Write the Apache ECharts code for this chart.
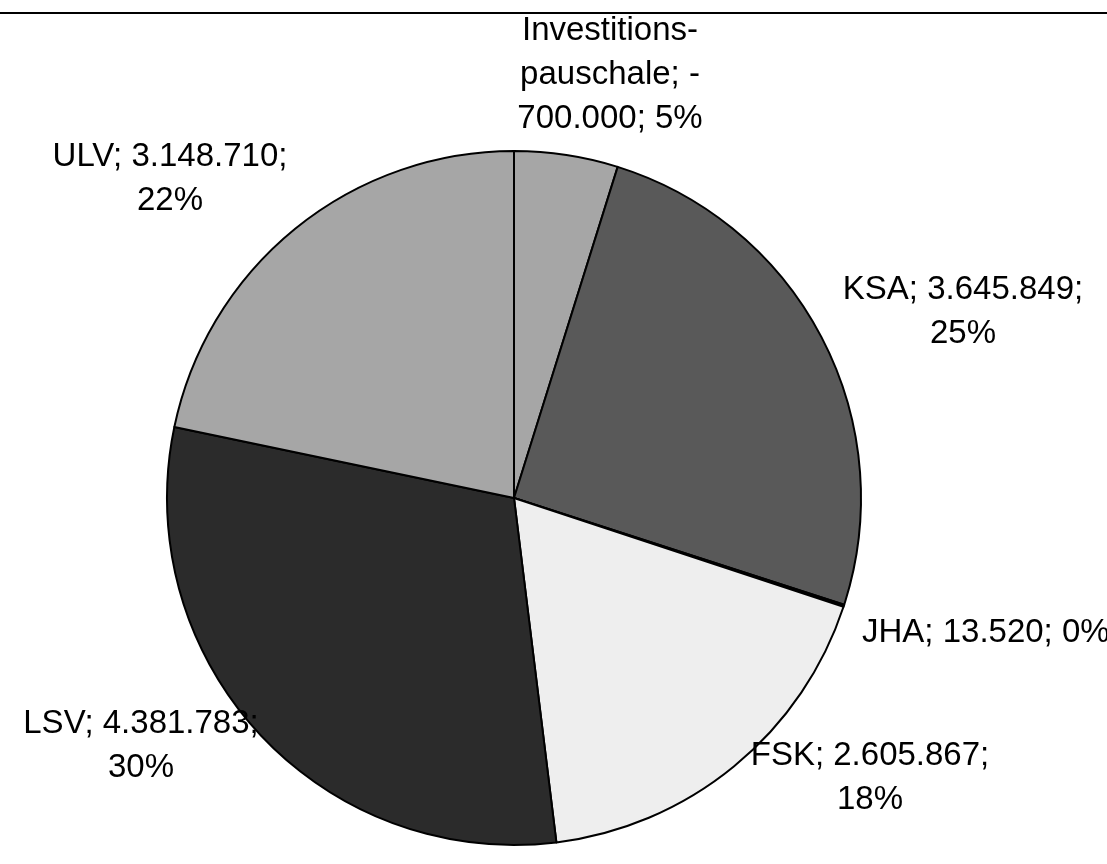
<!DOCTYPE html>
<html>
<head>
<meta charset="utf-8">
<script src="https://cdn.jsdelivr.net/npm/echarts@6/dist/echarts.min.js"></script>
<style>
  html, body { margin: 0; padding: 0; background: #fff; }
  #piechart { width: 1107px; height: 864px; }
</style>
</head>
<body>
<div id="piechart"></div>
<script>
// Werte aus dem Diagramm
const names = ["Investitions-pauschale", "KSA", "JHA", "FSK", "LSV", "ULV"];
const values = [-700000, 3645849, 13520, 2605867, 4381783, 3148710];
const percents = ["5%", "25%", "0%", "18%", "30%", "22%"];
const colors = ["#a6a6a6", "#595959", "#ffffff", "#eeeeee", "#2b2b2b", "#a6a6a6"];

// label text, wrapped like the original
const labelTexts = [
  "Investitions-\npauschale; -\n700.000; 5%",
  "KSA; 3.645.849;\n25%",
  "JHA; 13.520; 0%",
  "FSK; 2.605.867;\n18%",
  "LSV; 4.381.783;\n30%",
  "ULV; 3.148.710;\n22%"
];
// label anchor (center) positions
const labelPos = [
  [610, 75], [963, 312], [862, 633], [870, 778], [141, 746], [170, 179]
];
const labelAlign = ["center", "center", "left", "center", "center", "center"];

const myChart = echarts.init(document.getElementById("piechart"));

const option = {
  backgroundColor: "#fff",
  animation: false,
  textStyle: { fontFamily: "'Liberation Sans', Arial, sans-serif" },
  graphic: [
    {
      type: "line",
      shape: { x1: 0, y1: 13, x2: 1107, y2: 13 },
      style: { stroke: "#000", lineWidth: 2 }
    }
  ],
  series: [
    {
      type: "pie",
      center: [514, 498],
      radius: [0, 347],
      startAngle: 90,
      clockwise: true,
      avoidLabelOverlap: false,
      itemStyle: { borderColor: "#000", borderWidth: 2 },
      label: {
        show: true,
        position: "outside",
        color: "#000",
        fontSize: 33,
        lineHeight: 44,
        fontFamily: "'Liberation Sans', Arial, sans-serif",
        formatter: (p) => labelTexts[p.dataIndex]
      },
      labelLine: { show: false },
      labelLayout: (params) => {
        const i = params.dataIndex;
        return {
          x: labelPos[i][0],
          y: labelPos[i][1],
          align: labelAlign[i],
          verticalAlign: "middle"
        };
      },
      emphasis: { disabled: true },
      data: names.map((n, i) => ({
        name: n,
        value: Math.abs(values[i]),
        itemStyle: { color: colors[i] }
      }))
    }
  ]
};

myChart.setOption(option);
</script>
</body>
</html>
